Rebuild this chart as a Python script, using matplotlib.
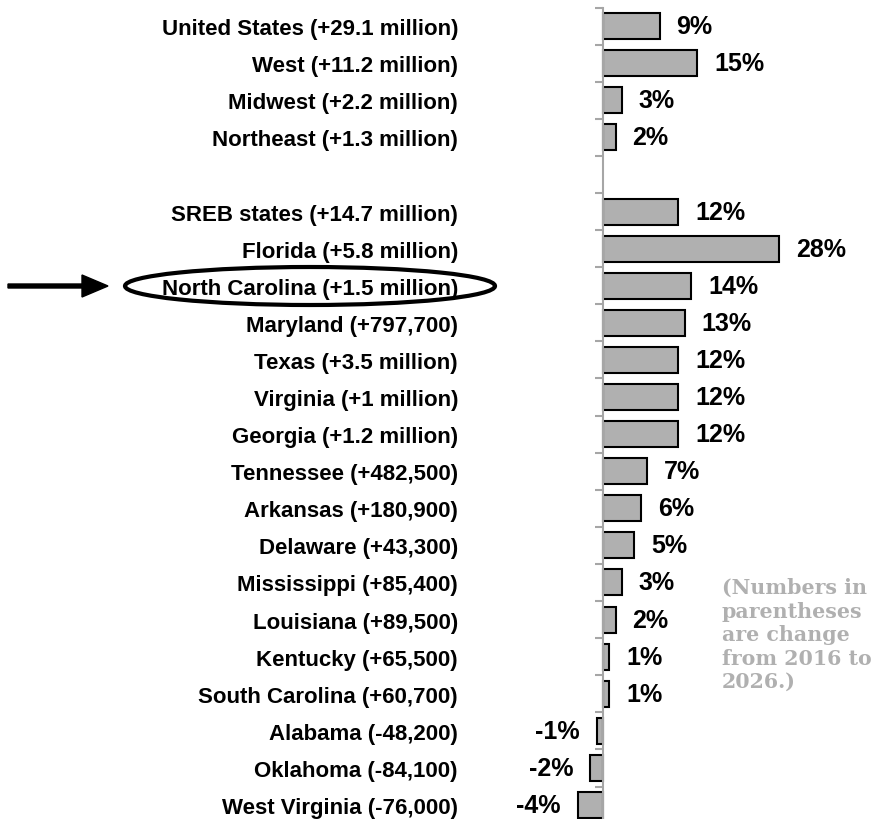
import matplotlib.pyplot as plt
from matplotlib.patches import Ellipse, FancyArrow

# rows of the chart, top to bottom (None = blank gap row)
labels = ["United States (+29.1 million)", "West (+11.2 million)",
          "Midwest (+2.2 million)", "Northeast (+1.3 million)", None,
          "SREB states (+14.7 million)", "Florida (+5.8 million)",
          "North Carolina (+1.5 million)", "Maryland (+797,700)",
          "Texas (+3.5 million)", "Virginia (+1 million)",
          "Georgia (+1.2 million)", "Tennessee (+482,500)",
          "Arkansas (+180,900)", "Delaware (+43,300)",
          "Mississippi (+85,400)", "Louisiana (+89,500)",
          "Kentucky (+65,500)", "South Carolina (+60,700)",
          "Alabama (-48,200)", "Oklahoma (-84,100)",
          "West Virginia (-76,000)"]
pct = [9, 15, 3, 2, None, 12, 28, 14, 13, 12, 12, 12, 7, 6, 5, 3, 2, 1, 1, -1, -2, -4]

plt.rcParams['font.family'] = ['Liberation Sans', 'DejaVu Sans']

fig = plt.figure(figsize=(8.85, 8.2), dpi=100)
W, H = 885, 820
left_px, right_px = 470, 885
top_px, bot_px = 8.5, 824.6
ax = fig.add_axes([left_px / W, 1 - bot_px / H, (right_px - left_px) / W, (bot_px - top_px) / H])

pxu = 6.29
ax.set_xlim(-(603 - left_px) / pxu, (right_px - 603) / pxu)
n = len(labels)
ax.set_ylim(n - 0.5, -0.5)

ys = [i for i, v in enumerate(pct) if v is not None]
vals = [v for v in pct if v is not None]
ax.barh(ys, vals, height=0.7, color='#b0b0b0', edgecolor='black', linewidth=1.5, zorder=2)

for y, v in zip(ys, vals):
    if v >= 0:
        ax.text(v + 17 / pxu, y, f"{v}%", ha='left', va='center',
                fontsize=18, fontweight='bold', zorder=3)
    else:
        ax.text(v - 17 / pxu, y, f"{v}%", ha='right', va='center',
                fontsize=18, fontweight='bold', zorder=3)

for s in ['top', 'right', 'bottom']:
    ax.spines[s].set_visible(False)
ax.spines['left'].set_position(('data', 0))
ax.spines['left'].set_color('#a6a6a6')
ax.spines['left'].set_linewidth(1.5)
ax.spines['left'].set_zorder(4)
ax.set_xticks([])

ax.set_yticks(ys)
ax.set_yticklabels([labels[i] for i in ys], fontsize=16, fontweight='bold')
ax.tick_params(axis='y', which='major', length=0, pad=(603 - 458) * 0.72)
ax.set_yticks([i - 0.5 for i in range(n + 1)], minor=True)
ax.tick_params(axis='y', which='minor', length=6, width=1.5, color='#a6a6a6')

# highlight North Carolina
ell = Ellipse((310 / W, 1 - 287 / H), 370 / W, 38 / H, transform=fig.transFigure,
              fill=False, edgecolor='black', linewidth=3)
fig.add_artist(ell)
arr = FancyArrow(8 / W, 1 - 287 / H, 100 / W, 0, width=4 / H, head_width=22 / H,
                 head_length=26 / W, length_includes_head=True,
                 transform=fig.transFigure, color='black')
fig.add_artist(arr)

fig.text(722 / W, 1 - 578 / H,
         "(Numbers in\nparentheses\nare change\nfrom 2016 to\n2026.)",
         ha='left', va='top', fontsize=14.8, fontweight='bold', color='#b0b0b0',
         family=['DejaVu Serif'], linespacing=1.22)

fig.savefig('out.png', dpi=100)
